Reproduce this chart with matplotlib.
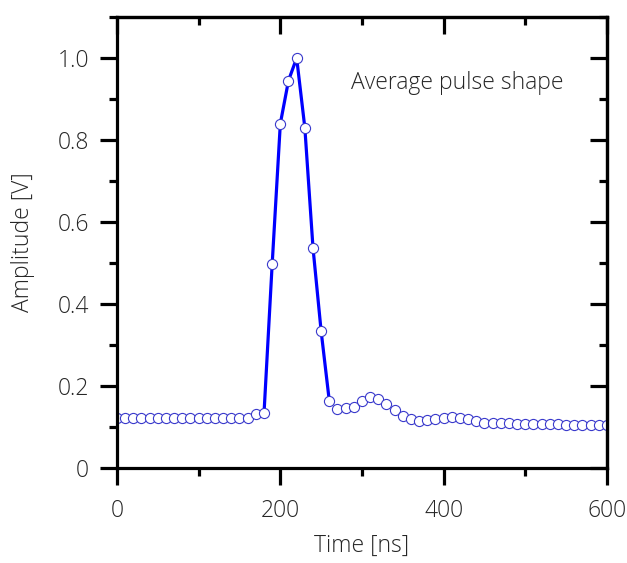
import matplotlib
matplotlib.use("Agg")
import matplotlib.pyplot as plt
from matplotlib.ticker import MultipleLocator, FuncFormatter

plt.rcParams['font.family'] = ['Open Sans', 'DejaVu Sans']

# sampling times [ns]
time_ns = [0, 10, 20, 30, 40, 50, 60, 70, 80, 90,
           100, 110, 120, 130, 140, 150, 160, 170, 180, 190,
           200, 210, 220, 230, 240, 250, 260, 270, 280, 290,
           300, 310, 320, 330, 340, 350, 360, 370, 380, 390,
           400, 410, 420, 430, 440, 450, 460, 470, 480, 490,
           500, 510, 520, 530, 540, 550, 560, 570, 580, 590, 600]

# average pulse amplitude [V]
amplitude = [0.122, 0.122, 0.122, 0.122, 0.122, 0.122, 0.122, 0.122, 0.122, 0.122,
             0.122, 0.122, 0.122, 0.122, 0.122, 0.122, 0.122, 0.132, 0.133, 0.497,
             0.840, 0.945, 1.000, 0.830, 0.537, 0.333, 0.163, 0.143, 0.147, 0.150,
             0.163, 0.173, 0.169, 0.157, 0.142, 0.128, 0.119, 0.114, 0.116, 0.119,
             0.122, 0.124, 0.122, 0.119, 0.114, 0.111, 0.110, 0.109, 0.109, 0.108,
             0.108, 0.108, 0.108, 0.107, 0.107, 0.106, 0.106, 0.105, 0.105, 0.105, 0.104]

# part of the trace joined by the line (rising edge + peak)
line_start, line_end = 18, 26

fig = plt.figure(figsize=(6.27, 5.63), dpi=100)
ax = fig.add_axes([0.1866, 0.1687, 0.7815, 0.8011])

ax.plot(time_ns[line_start:line_end + 1], amplitude[line_start:line_end + 1],
        color='#0000ff', lw=2.3, zorder=2)
ax.plot(time_ns, amplitude, ls='none', marker='o', ms=7.3,
        mfc='white', mec='#3a3acc', mew=0.8, zorder=3)

ax.set_xlim(0, 600)
ax.set_ylim(0, 1.1)

txt = '#262626'
fs = 16.5
ax.set_xlabel('Time [ns]', fontsize=fs, color=txt, fontweight='light', labelpad=8)
ax.set_ylabel('Amplitude [V]', fontsize=fs, color=txt, fontweight='light', labelpad=16)
ax.text(286, 0.94, 'Average pulse shape', fontsize=fs, color=txt,
        fontweight='light', va='center', ha='left')

ax.xaxis.set_major_locator(MultipleLocator(200))
ax.xaxis.set_minor_locator(MultipleLocator(100))
ax.yaxis.set_major_locator(MultipleLocator(0.2))
ax.yaxis.set_minor_locator(MultipleLocator(0.1))
ax.yaxis.set_major_formatter(FuncFormatter(lambda v, p: '0' if abs(v) < 1e-9 else f'{v:.1f}'))

for s in ax.spines.values():
    s.set_linewidth(2.3)
    s.set_zorder(5)

ax.tick_params(which='both', left=True, bottom=True, direction='out', width=2.3,
               labelsize=fs, labelcolor=txt)
ax.tick_params(which='major', length=12, pad=8)
ax.tick_params(which='minor', length=6)
ax.tick_params(axis='x', which='major', pad=10)

# mirrored ticks pointing inward on top and right
axt = ax.secondary_xaxis('top')
axt.xaxis.set_major_locator(MultipleLocator(200))
axt.xaxis.set_minor_locator(MultipleLocator(100))
axt.tick_params(which='both', direction='in', width=2.3, labeltop=False)
axt.tick_params(which='major', length=12)
axt.tick_params(which='minor', length=6)
axt.spines['top'].set_linewidth(2.3)

axr = ax.secondary_yaxis('right')
axr.yaxis.set_major_locator(MultipleLocator(0.2))
axr.yaxis.set_minor_locator(MultipleLocator(0.1))
axr.tick_params(which='both', direction='in', width=2.3, labelright=False)
axr.tick_params(which='major', length=12)
axr.tick_params(which='minor', length=6)
axr.spines['right'].set_linewidth(2.3)

for lab in ax.get_xticklabels() + ax.get_yticklabels():
    lab.set_fontweight('light')

fig.savefig('out.png', dpi=100)
